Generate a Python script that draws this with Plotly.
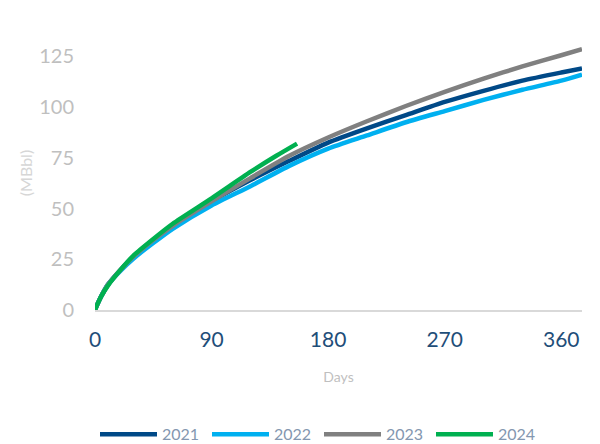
import plotly.graph_objects as go

days_2021 = [0, 2, 5, 10, 20, 30, 45, 60, 90, 120, 150, 180, 210, 240, 270, 300, 330, 360, 376]
vals_2021 = [0, 3, 7, 12.5, 20, 26.5, 34.5, 41.5, 53.5, 64, 73.5, 82.5, 89.5, 96, 102.5, 108, 113, 117, 119]

days_2022 = [0, 2, 5, 10, 20, 30, 45, 60, 90, 120, 150, 180, 210, 240, 270, 300, 330, 360, 376]
vals_2022 = [0, 3, 7, 12.5, 19.5, 25.5, 33, 40, 51.5, 61, 71, 79.5, 86, 92.5, 98, 103.5, 108.5, 113, 116]

days_2023 = [0, 2, 5, 10, 20, 30, 45, 60, 90, 120, 150, 180, 210, 240, 270, 300, 330, 360, 376]
vals_2023 = [0, 3, 7, 12.5, 20, 26.5, 34.5, 41.5, 53.5, 65, 76, 85, 93, 100.5, 107.5, 114, 120, 125.5, 128.5]

days_2024 = [0, 2, 5, 10, 20, 30, 45, 60, 90, 120, 140, 156]
vals_2024 = [0, 3, 7, 12, 20, 27, 35, 42.5, 55, 68, 76, 82]

series = [
    ("2021", days_2021, vals_2021, "#004987"),
    ("2022", days_2022, vals_2022, "#00b0f0"),
    ("2023", days_2023, vals_2023, "#808080"),
    ("2024", days_2024, vals_2024, "#00b050"),
]

x_ticks = [0, 90, 180, 270, 360]
y_ticks = [0, 25, 50, 75, 100, 125]

fig = go.Figure()
for name, xs, ys, color in series:
    fig.add_trace(go.Scatter(x=xs, y=ys, mode="lines", name=name,
                             line=dict(color=color, width=4.5, shape="spline", smoothing=0.6)))

font_family = "Lato, 'Open Sans', sans-serif"
fig.update_layout(
    width=600, height=444,
    margin=dict(l=87, r=26, t=28, b=142),
    paper_bgcolor="white", plot_bgcolor="white",
    font=dict(family=font_family),
    showlegend=True,
    legend=dict(orientation="h", x=0.0, xanchor="left", y=0.04, yanchor="middle",
                yref="container",
                font=dict(size=16, color="#8497b0"), itemwidth=57,
                entrywidth=40, entrywidthmode="pixels", tracegroupgap=0),
    xaxis=dict(range=[0, 376], tickvals=x_ticks, showgrid=False, zeroline=False,
               automargin=False,
               showline=True, linecolor="#d9d9d9", linewidth=1.5,
               ticks="outside", ticklen=10, tickcolor="rgba(0,0,0,0)",
               tickfont=dict(size=21, color="#1f4e79"),
               title=dict(text="Days", font=dict(size=14, color="#bfbfbf"), standoff=22)),
    yaxis=dict(range=[0, 135], tickvals=y_ticks, showgrid=False, zeroline=False,
               automargin=False,
               showline=False,
               ticks="outside", ticklen=16, tickcolor="rgba(0,0,0,0)",
               tickfont=dict(size=20, color="#bfbfbf"),
               title=dict(text="(MBbl)", font=dict(size=16, color="#d6d6d6"), standoff=2)),
)

fig.write_html("out.html")
